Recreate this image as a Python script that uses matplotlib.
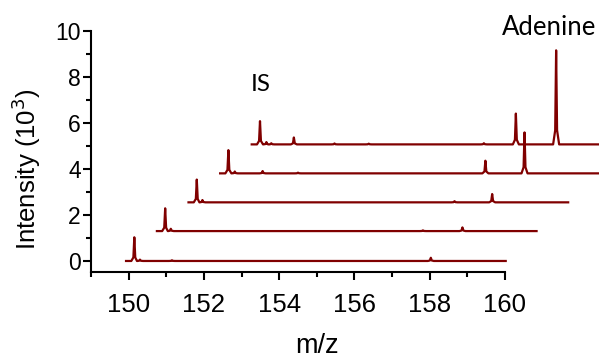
import matplotlib.pyplot as plt
import numpy as np
from matplotlib.ticker import MultipleLocator

color = "#800000"

# spectra (m/z, intensity in 10^3), one list per trace
mz_start = 149.93
mz_end = 160.02
peaks_mz = [
    [150.15, 150.30, 151.15, 158.03],
    [150.15, 150.30, 157.00, 158.05],
    [150.15, 150.30, 157.00, 158.00],
    [150.15, 150.32, 151.06, 152.00, 156.98, 158.02],
    [150.15, 150.32, 150.45, 151.05, 152.13, 153.04, 156.10, 156.95, 158.02],
]
peaks_int = [
    [1.03, 0.06, 0.03, 0.14],
    [0.99, 0.10, 0.03, 0.16],
    [0.99, 0.10, 0.05, 0.36],
    [1.01, 0.08, 0.10, 0.03, 0.55, 1.78],
    [1.01, 0.10, 0.05, 0.30, 0.04, 0.03, 0.05, 1.34, 4.09],
]
# waterfall offsets of each trace
shift_mz = [0, 0.82, 1.66, 2.50, 3.34]
shift_int = [0, 1.30, 2.55, 3.81, 5.07]

half_width = 0.08

fig = plt.figure(figsize=(5.99, 3.59), dpi=100)
ax = fig.add_axes([0.152, 0.2423, 0.691, 0.6713])

for mzs, ints, dx, dy in zip(peaks_mz, peaks_int, shift_mz, shift_int):
    xs = [mz_start]
    ys = [0]
    for c, h in zip(mzs, ints):
        xs += [c - half_width, c - 0.025, c, c + 0.025, c + half_width]
        ys += [0, 0.15 * h, h, 0.15 * h, 0]
    xs.append(mz_end)
    ys.append(0)
    order = np.argsort(xs, kind="stable")
    xs = np.array(xs)[order] + dx
    ys = np.array(ys)[order] + dy
    ax.plot(xs, ys, color=color, lw=1.6, clip_on=False, solid_joinstyle="round")

ax.set_xlim(149, 160)
ax.set_ylim(-0.48, 10)
ax.xaxis.set_major_locator(MultipleLocator(2))
ax.xaxis.set_minor_locator(MultipleLocator(1))
ax.yaxis.set_major_locator(MultipleLocator(2))
ax.yaxis.set_minor_locator(MultipleLocator(1))
ax.spines["top"].set_visible(False)
ax.spines["right"].set_visible(False)
for s in ("left", "bottom"):
    ax.spines[s].set_linewidth(1.5)
ax.tick_params(which="major", length=6, width=1.5)
ax.tick_params(which="minor", length=3.5, width=1.5)
ax.tick_params(axis="x", which="major", pad=9, labelsize=18.5)
ax.tick_params(axis="y", which="major", pad=1.5, labelsize=16.5)
for lab in ax.get_xticklabels() + ax.get_yticklabels():
    lab.set_family("Liberation Sans")

fig.text(317 / 599, 1 - 346 / 359, "m/z", fontsize=19.5, family="Liberation Sans",
         ha="center", va="center")
fig.text(26 / 599, 1 - 169 / 359, "Intensity (10$^3$)", fontsize=18.5,
         family="Liberation Sans", rotation=90, ha="center", va="center")

ax.text(153.5, 7.69, "IS", fontsize=17.5, family="Lato", ha="center", va="center")
ax.text(161.17, 10.17, "Adenine", fontsize=18.5, family="Lato", ha="center",
        va="center", clip_on=False)

fig.savefig("out.png", dpi=100)
